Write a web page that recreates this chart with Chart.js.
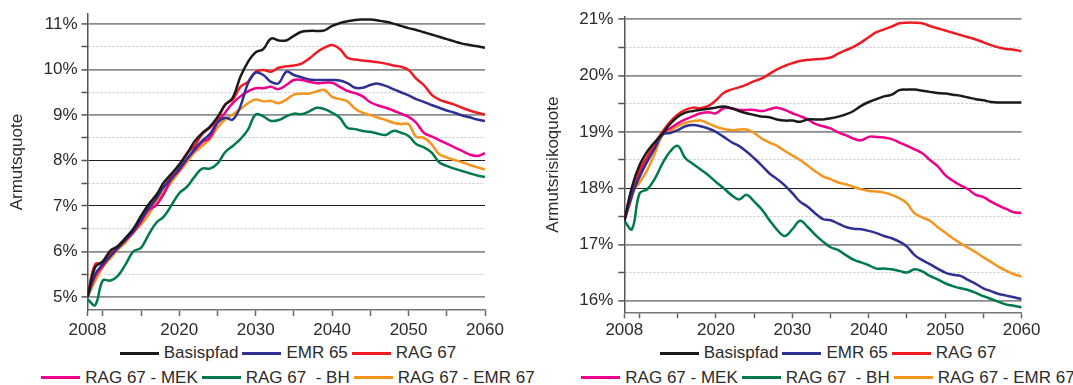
<!DOCTYPE html>
<html>
<head>
<meta charset="utf-8">
<script src="https://cdn.jsdelivr.net/npm/chart.js@4.4.1/dist/chart.umd.min.js"></script>
<style>
  html, body { margin:0; padding:0; background:#fff; width:1073px; height:385px; overflow:hidden; }
  body { position:relative; font-family:"Liberation Sans", Arial, sans-serif; color:#2b2b2b; }
  canvas { position:absolute; top:0; }
  .lrow { position:absolute; height:20px; display:flex; justify-content:center; align-items:center; white-space:pre; font-size:17px; line-height:20px; }
  .item { display:flex; align-items:center; margin-right:4px; }
  .swatch { width:39px; height:3px; margin-right:5px; }
</style>
</head>
<body>
<canvas id="cL" width="540" height="340" style="left:0px"></canvas>
<canvas id="cR" width="533" height="340" style="left:540px"></canvas>
<div id="legends"></div>
<script>
// ---------- data ----------
const years = [2008,2009,2010,2011,2012,2013,2014,2015,2016,2017,
               2018,2019,2020,2021,2022,2023,2024,2025,2026,2027,
               2028,2029,2030,2031,2032,2033,2034,2035,2036,2037,
               2038,2039,2040,2041,2042,2043,2044,2045,2046,2047,
               2048,2049,2050,2051,2052,2053,2054,2055,2056,2057,
               2058,2059,2060];

const seriesNames = ["Basispfad", "EMR 65", "RAG 67", "RAG 67 - MEK", "RAG 67  - BH", "RAG 67 - EMR 67"];
const seriesColors = ["#1a1a1a", "#2e3192", "#ed1c24", "#ec008c", "#007a4d", "#f7941d"];

// Left panel: Armutsquote (%)
const basisL = [5.0,5.65,5.78,6.02,6.12,6.3,6.5,6.78,7.04,7.24,
                7.52,7.71,7.91,8.14,8.42,8.6,8.74,8.95,9.22,9.38,
                9.84,10.17,10.38,10.45,10.68,10.64,10.64,10.74,10.83,10.85,
                10.85,10.86,10.96,11.02,11.06,11.09,11.1,11.1,11.08,11.05,
                11.01,10.96,10.91,10.87,10.82,10.77,10.72,10.67,10.62,10.57,
                10.54,10.51,10.48];
const emr65L = [5.0,5.5,5.72,5.9,6.08,6.26,6.45,6.7,6.95,7.16,
                7.42,7.6,7.82,8.03,8.25,8.43,8.58,8.83,8.94,8.9,
                9.19,9.7,9.93,9.88,9.73,9.7,9.95,9.88,9.83,9.78,
                9.77,9.77,9.77,9.76,9.7,9.6,9.6,9.66,9.69,9.64,
                9.57,9.5,9.43,9.35,9.29,9.22,9.16,9.1,9.05,8.99,
                8.95,8.9,8.87];
const rag67L = [5.0,5.72,5.74,5.94,6.12,6.29,6.45,6.73,7.01,7.24,
                7.42,7.67,7.89,8.16,8.32,8.58,8.72,8.9,9.23,9.34,
                9.62,9.73,9.95,9.99,9.95,10.04,10.07,10.09,10.13,10.24,
                10.38,10.48,10.54,10.45,10.26,10.22,10.2,10.18,10.16,10.13,
                10.09,10.06,9.99,9.8,9.66,9.45,9.34,9.28,9.23,9.16,
                9.1,9.05,9.01];
const mekL   = [5.0,5.45,5.68,5.9,6.08,6.25,6.42,6.65,6.91,7.02,
                7.27,7.6,7.78,8.03,8.22,8.4,8.5,8.83,9.05,9.26,
                9.41,9.52,9.59,9.59,9.62,9.57,9.66,9.77,9.77,9.73,
                9.7,9.71,9.71,9.62,9.53,9.48,9.41,9.28,9.21,9.16,
                9.1,9.03,8.96,8.83,8.61,8.53,8.45,8.37,8.29,8.21,
                8.13,8.1,8.16];
const bhL    = [4.95,4.82,5.36,5.36,5.47,5.72,6.0,6.08,6.37,6.63,
                6.77,7.02,7.28,7.42,7.64,7.82,7.82,7.93,8.18,8.32,
                8.47,8.68,9.01,8.97,8.87,8.89,8.97,9.03,9.02,9.08,
                9.16,9.13,9.05,8.94,8.72,8.69,8.65,8.63,8.59,8.56,
                8.65,8.61,8.54,8.36,8.29,8.18,7.96,7.88,7.82,7.77,
                7.72,7.67,7.64];
const emr67L = [5.0,5.35,5.65,5.85,6.05,6.2,6.42,6.59,6.81,7.1,
                7.31,7.53,7.75,7.96,8.18,8.32,8.47,8.72,8.9,9.01,
                9.13,9.26,9.34,9.3,9.31,9.26,9.34,9.45,9.47,9.47,
                9.52,9.55,9.4,9.35,9.3,9.14,9.05,9.0,8.94,8.89,
                8.83,8.8,8.8,8.52,8.5,8.36,8.14,8.07,8.01,7.96,
                7.9,7.85,7.8];

// Right panel: Armutsrisikoquote (%)
const basisR = [17.42,18.02,18.41,18.65,18.82,18.97,19.14,19.27,19.34,19.37,
                19.39,19.41,19.43,19.45,19.42,19.37,19.33,19.3,19.27,19.26,
                19.22,19.2,19.2,19.18,19.22,19.22,19.22,19.24,19.27,19.31,
                19.37,19.46,19.53,19.58,19.63,19.66,19.74,19.75,19.75,19.73,
                19.71,19.69,19.68,19.66,19.64,19.61,19.58,19.56,19.53,19.52,
                19.52,19.52,19.52];
const emr65R = [17.42,17.88,18.2,18.47,18.71,18.95,18.98,19.03,19.1,19.12,
                19.1,19.06,19.0,18.91,18.82,18.75,18.65,18.53,18.4,18.26,
                18.16,18.05,17.91,17.76,17.67,17.55,17.45,17.43,17.37,17.31,
                17.28,17.27,17.24,17.2,17.15,17.11,17.05,16.96,16.81,16.72,
                16.65,16.57,16.5,16.46,16.44,16.37,16.3,16.22,16.17,16.12,
                16.09,16.06,16.03];
const rag67R = [17.42,17.85,18.32,18.56,18.79,19.0,19.18,19.31,19.39,19.43,
                19.42,19.46,19.56,19.69,19.75,19.79,19.84,19.9,19.95,20.03,
                20.11,20.17,20.22,20.26,20.28,20.29,20.3,20.32,20.39,20.45,
                20.51,20.59,20.68,20.77,20.82,20.87,20.93,20.94,20.94,20.93,
                20.88,20.84,20.8,20.76,20.72,20.68,20.64,20.59,20.54,20.5,
                20.47,20.46,20.43];
const mekR   = [17.42,17.97,18.26,18.5,18.73,18.97,19.06,19.15,19.22,19.28,
                19.33,19.35,19.33,19.42,19.42,19.39,19.39,19.39,19.37,19.4,
                19.43,19.39,19.33,19.28,19.22,19.14,19.1,19.06,18.99,18.94,
                18.88,18.85,18.91,18.91,18.9,18.87,18.81,18.75,18.69,18.62,
                18.5,18.39,18.23,18.13,18.05,17.98,17.88,17.84,17.76,17.69,
                17.63,17.57,17.56];
const bhR    = [17.42,17.27,17.91,17.98,18.17,18.44,18.65,18.75,18.53,18.43,
                18.33,18.23,18.11,18.0,17.88,17.8,17.88,17.76,17.62,17.43,
                17.26,17.15,17.27,17.42,17.31,17.17,17.05,16.95,16.9,16.81,
                16.73,16.68,16.63,16.57,16.57,16.56,16.53,16.5,16.56,16.52,
                16.44,16.38,16.31,16.26,16.22,16.19,16.14,16.08,16.03,15.98,
                15.93,15.91,15.88];
const emr67R = [17.42,17.91,18.1,18.32,18.62,18.94,19.01,19.1,19.16,19.19,
                19.2,19.15,19.09,19.05,19.03,19.04,19.04,18.98,18.88,18.81,
                18.75,18.66,18.58,18.5,18.4,18.3,18.21,18.16,18.1,18.07,
                18.02,17.98,17.95,17.94,17.92,17.88,17.82,17.73,17.55,17.48,
                17.42,17.31,17.21,17.11,17.02,16.94,16.86,16.77,16.69,16.6,
                16.53,16.47,16.43];

// ticks
const xTickMarks  = [2008,2010,2015,2020,2025,2030,2035,2040,2045,2050,2055,2060];
const xTickLabels = [2008,2020,2030,2040,2050,2060];
const yTicksL = [5,5.5,6,6.5,7,7.5,8,8.5,9,9.5,10,10.5,11];
const yTicksR = [16,16.5,17,17.5,18,18.5,19,19.5,20,20.5,21];

// ---------- chart ----------
Chart.defaults.font.family = '"Liberation Sans", Arial, sans-serif';
Chart.defaults.font.size = 17;
Chart.defaults.color = '#2b2b2b';

function makeChart(id, series, title, cfg) {
  const datasets = series.map((arr, i) => ({
    label: seriesNames[i],
    data: years.map((y, k) => ({x: y, y: arr[k]})),
    borderColor: seriesColors[i],
    backgroundColor: seriesColors[i],
    borderWidth: 2.5,
    pointRadius: 0,
    tension: 0.4,
    fill: false
  }));
  return new Chart(document.getElementById(id), {
    type: 'line',
    data: { datasets },
    options: {
      responsive: false,
      animation: false,
      devicePixelRatio: 1,
      layout: { padding: cfg.padding },
      plugins: { legend: { display: false }, tooltip: { enabled: false } },
      scales: {
        x: {
          type: 'linear', min: 2008, max: 2060,
          afterBuildTicks: s => { s.ticks = xTickMarks.map(v => ({value: v})); },
          afterFit: s => { s.height = cfg.xHeight; },
          ticks: {
            autoSkip: false, maxRotation: 0, padding: cfg.xPad,
            callback: v => xTickLabels.includes(v) ? String(v) : ''
          },
          grid: { drawOnChartArea: false, drawTicks: true, tickLength: 6, tickColor: '#666', tickWidth: 1.5 },
          border: { display: true, color: '#777', width: 1.5 }
        },
        y: {
          type: 'linear', min: cfg.yMin, max: cfg.yMax,
          afterBuildTicks: s => { s.ticks = cfg.yTicks.map(v => ({value: v})); },
          afterFit: s => { s.width = cfg.yWidth; },
          ticks: {
            autoSkip: false, padding: cfg.yPad,
            callback: v => (Math.abs(v - Math.round(v)) < 1e-9) ? v + '%' : ''
          },
          title: { display: true, text: title, padding: {top: cfg.titlePad, bottom: 0}, font: {size: 17}, color: '#2b2b2b' },
          grid: {
            drawOnChartArea: true, drawTicks: true, tickLength: 6,
            tickColor: '#555', tickWidth: 1.5,
            color: ctx => {
              const v = ctx.tick ? ctx.tick.value : 0;
              if (Math.abs(v - Math.round(v)) > 1e-9) return '#c4c4c4';
              return cfg.dark.includes(v) ? '#1e1e1e' : '#8c8c8c';
            },
            lineWidth: ctx => {
              const v = ctx.tick ? ctx.tick.value : 0;
              if (Math.abs(v - Math.round(v)) > 1e-9) return 1;
              return cfg.dark.includes(v) ? 1 : 1.8;
            }
          },
          border: {
            display: true, color: '#555', width: 1.5,
            dash: ctx => (ctx.tick && Math.abs(ctx.tick.value - Math.round(ctx.tick.value)) > 1e-9) ? [2, 2] : []
          }
        }
      }
    }
  });
}

makeChart('cL', [basisL, emr65L, rag67L, mekL, bhL, emr67L], 'Armutsquote', {
  padding: {left: 3, right: 55, top: 10, bottom: 0},
  yMin: 4.712, yMax: 11.217, yTicks: yTicksL, yWidth: 84.5, yPad: 4, xHeight: 30, xPad: 4,
  titlePad: 4, dark: [7, 8]
});
makeChart('cR', [basisR, emr65R, rag67R, mekR, bhR, emr67R], 'Armutsrisikoquote', {
  padding: {left: 0, right: 51.4, top: 17, bottom: 0},
  yMin: 15.794, yMax: 21.04, yTicks: yTicksR, yWidth: 84.3, yPad: 5, xHeight: 27.7, xPad: 2,
  titlePad: 3, dark: [18]
});

// ---------- legends (HTML, built from series names/colours) ----------
const legendRows = [[0, 1, 2], [3, 4, 5]];
const legendRowY = [353, 377.5];
const legendCenters = [288, 828];
const lg = document.getElementById('legends');
legendCenters.forEach(cx => {
  legendRows.forEach((row, r) => {
    const div = document.createElement('div');
    div.className = 'lrow';
    div.style.left = (cx - 300) + 'px';
    div.style.width = '600px';
    div.style.top = (legendRowY[r] - 10) + 'px';
    row.forEach((idx, j) => {
      const it = document.createElement('span');
      it.className = 'item';
      if (j === row.length - 1) it.style.marginRight = '0px';
      const sw = document.createElement('span');
      sw.className = 'swatch';
      sw.style.background = seriesColors[idx];
      const tx = document.createElement('span');
      tx.textContent = seriesNames[idx];
      it.appendChild(sw); it.appendChild(tx);
      div.appendChild(it);
    });
    lg.appendChild(div);
  });
});
</script>
</body>
</html>
